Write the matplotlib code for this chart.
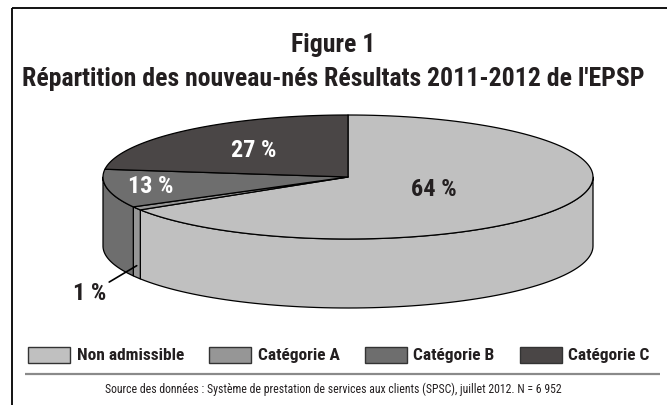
#!/usr/bin/env python3
"""Figure 1: 3D-style pie of newborn categories (EPSP 2011-2012)."""

import matplotlib
matplotlib.use("Agg")
import matplotlib.pyplot as plt
import numpy as np
from matplotlib import font_manager
from matplotlib.patches import Patch, Polygon

categories = ["Non admissible", "Catégorie A", "Catégorie B", "Catégorie C"]
# slice sizes as drawn in the picture (percent of the circle)
shares = [66.1, 0.9, 10.0, 23.0]
# printed labels
pct_labels = ["64 %", "1 %", "13 %", "27 %"]
colors = ["#c0c0c0", "#969696", "#6e6e6e", "#4a4646"]

title_lines = ["Figure 1", "Répartition des nouveau-nés Résultats 2011-2012 de l'EPSP"]
source = ("Source des données : Système de prestation de services aux clients (SPSC), "
          "juillet 2012. N = 6 952")

available = {f.name for f in font_manager.fontManager.ttflist}
FONT = next(n for n in ["Liberation Sans Narrow", "Roboto Condensed",
                        "Open Sans Condensed", "DejaVu Sans"] if n in available)
plt.rcParams["font.family"] = [FONT, "DejaVu Sans"]

W, H = 667, 405
CX, CY, RX, RY, DEPTH = 348, 177, 245, 62, 69
DARK = "#231f20"

fig = plt.figure(figsize=(W / 100, H / 100), dpi=100)
ax = fig.add_axes([0, 0, 1, 1])
ax.set_xlim(0, W)
ax.set_ylim(H, 0)
ax.axis("off")

# frame (top and left only) and separator
ax.plot([12, W], [8, 8], color="black", lw=1.3, solid_capstyle="butt")
ax.plot([12, 12], [8, H], color="black", lw=1.3, solid_capstyle="butt")
ax.plot([25, 660], [374, 374], color="#8a8a8a", lw=1.6, solid_capstyle="butt")


def ell(t):
    t = np.radians(t)
    return CX + RX * np.cos(t), CY - RY * np.sin(t)


# slice angles: start at 12 o'clock, clockwise
bounds = 90 - 3.6 * np.concatenate([[0], np.cumsum(shares)])
spans = [(bounds[i + 1], bounds[i]) for i in range(len(shares))]

# side walls (only the front half, -180..0 degrees, is visible)
for (lo, hi), col in zip(spans, colors):
    a, b = max(lo, -180), min(hi, 0)
    if a >= b:
        continue
    x, y = ell(np.linspace(a, b, 80))
    xs = np.concatenate([x, x[::-1]])
    ys = np.concatenate([y, y[::-1] + DEPTH])
    ax.add_patch(Polygon(np.column_stack([xs, ys]), closed=True, facecolor=col,
                         edgecolor="black", lw=0.9, joinstyle="round"))

# top faces
for (lo, hi), col in zip(spans, colors):
    x, y = ell(np.linspace(hi, lo, 120))
    xs = np.concatenate([[CX], x])
    ys = np.concatenate([[CY], y])
    ax.add_patch(Polygon(np.column_stack([xs, ys]), closed=True, facecolor=col,
                         edgecolor="black", lw=0.9, joinstyle="round"))

# percentage labels
label_r = [0.4, None, 0.82, 0.58]
label_col = [DARK, None, "white", "white"]
for i, ((lo, hi), txt) in enumerate(zip(spans, pct_labels)):
    mid = np.radians((lo + hi) / 2)
    if label_r[i] is None:
        xa, ya = ell((lo + hi) / 2)
        ya = ya + 0.83 * DEPTH
        ax.annotate(txt, xy=(xa, ya), xytext=(xa - 47, ya + 28), ha="center",
                    va="center", fontsize=17.5, fontweight="bold", color=DARK,
                    arrowprops=dict(arrowstyle="-", color="black", lw=1.2,
                                    shrinkA=0, shrinkB=0))
        continue
    r = label_r[i]
    ax.text(CX + r * RX * np.cos(mid), CY - r * RY * np.sin(mid), txt,
            ha="center", va="center", fontsize=17.5, fontweight="bold",
            color=label_col[i])

# titles
ax.text(W / 2, 45, title_lines[0], ha="center", va="center", fontsize=18.5,
        fontweight="bold", color=DARK)
ax.text(W / 2, 79, title_lines[1], ha="center", va="center", fontsize=18.5,
        fontweight="bold", color=DARK)

# legend
handles = [Patch(facecolor=c, edgecolor="#333333", lw=1.0) for c in colors]
leg = ax.legend(handles, categories, loc="center", bbox_to_anchor=(339 / W, 1 - 355 / H),
                ncol=4, frameon=False, handlelength=2.4, handleheight=1.05,
                handletextpad=0.4, columnspacing=1.45, borderaxespad=0,
                prop={"weight": "bold", "size": 12.5})
for t in leg.get_texts():
    t.set_color(DARK)

ax.text(W / 2, 389, source, ha="center", va="center", fontsize=8.5, color=DARK)

fig.savefig("out.png", dpi=100)
